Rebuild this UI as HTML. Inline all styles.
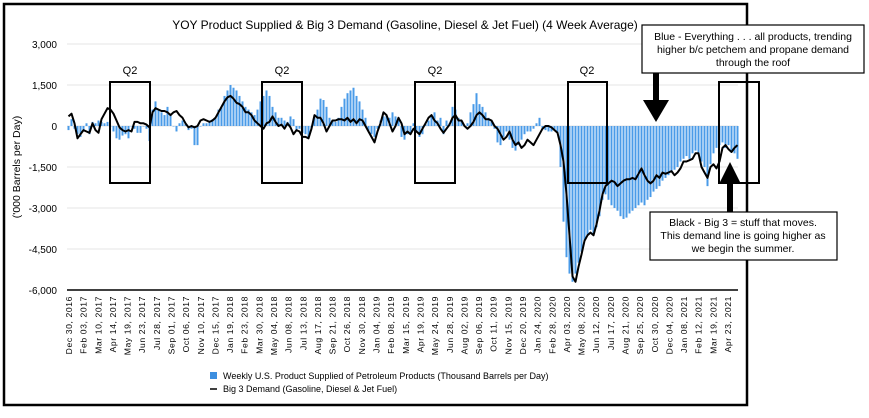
<!DOCTYPE html>
<html><head><meta charset="utf-8"><style>
body{margin:0;background:#fff;}
svg text{font-family:"Liberation Sans",sans-serif;}
</style></head><body>
<svg id="c" width="869" height="413" viewBox="0 0 869 413" xmlns="http://www.w3.org/2000/svg">
<rect x="4" y="4" width="743" height="401" fill="#fff" stroke="#000" stroke-width="2.5"/>
<text x="405" y="29" font-size="12" text-anchor="middle">YOY Product Supplied &amp; Big 3 Demand (Gasoline, Diesel &amp; Jet Fuel) (4 Week Average)</text>
<text transform="translate(20,167) rotate(-90)" font-size="10.5" text-anchor="middle">('000 Barrels per Day)</text>
<g id="grid"></g><g id="bars"></g><g id="line"></g><g id="xlabels"></g>
<g fill="none" stroke="#000" stroke-width="2">
<rect x="110" y="82" width="40" height="101"/>
<rect x="262" y="82" width="40" height="101"/>
<rect x="415" y="82" width="40" height="101"/>
<rect x="568" y="82" width="39" height="101"/>
<rect x="719" y="82" width="40" height="101"/>
</g>
<g font-size="11" text-anchor="middle">
<text x="130" y="74">Q2</text>
<text x="282" y="74">Q2</text>
<text x="435" y="74">Q2</text>
<text x="587" y="74">Q2</text>
</g>
<g>
<rect x="642" y="25" width="222" height="48" fill="#fff" stroke="#000" stroke-width="1.2"/>
<text font-size="10.5" text-anchor="middle"><tspan x="753" y="40">Blue - Everything . . . all products, trending</tspan><tspan x="753" y="53">higher b/c petchem and propane demand</tspan><tspan x="753" y="66">through the roof</tspan></text>
<rect x="653" y="73" width="6" height="30" fill="#000"/><polygon points="643,100 669,100 656,122" fill="#000"/>
</g>
<g>
<rect x="650" y="212" width="187" height="48" fill="#fff" stroke="#000" stroke-width="1.2"/>
<text font-size="10.5" text-anchor="middle"><tspan x="743" y="226">Black - Big 3 = stuff that moves.</tspan><tspan x="743" y="239">This demand line is going higher as</tspan><tspan x="743" y="252">we begin the summer.</tspan></text>
<rect x="727" y="180" width="6" height="32" fill="#000"/><polygon points="719,184 741,184 730,162" fill="#000"/>
</g>
<g font-size="9">
<rect x="210" y="372" width="7" height="7" fill="#3d8fe0"/>
<text x="223" y="379">Weekly U.S. Product Supplied of Petroleum Products  (Thousand Barrels per Day)</text>
<line x1="210" y1="389" x2="217" y2="389" stroke="#000" stroke-width="1.5"/>
<text x="223" y="392">Big 3 Demand (Gasoline, Diesel &amp; Jet Fuel)</text>
</g>
</svg>
<script>
const yTicks=[3000,1500,0,-1500,-3000,-4500,-6000];
const xLabels=["Dec 30, 2016","Feb 03, 2017","Mar 10, 2017","Apr 14, 2017","May 19, 2017","Jun 23, 2017","Jul 28, 2017","Sep 01, 2017","Oct 06, 2017","Nov 10, 2017","Dec 15, 2017","Jan 19, 2018","Feb 23, 2018","Mar 30, 2018","May 04, 2018","Jun 08, 2018","Jul 13, 2018","Aug 17, 2018","Sep 21, 2018","Oct 26, 2018","Nov 30, 2018","Jan 04, 2019","Feb 08, 2019","Mar 15, 2019","Apr 19, 2019","May 24, 2019","Jun 28, 2019","Aug 02, 2019","Sep 06, 2019","Oct 11, 2019","Nov 15, 2019","Dec 20, 2019","Jan 24, 2020","Feb 28, 2020","Apr 03, 2020","May 08, 2020","Jun 12, 2020","Jul 17, 2020","Aug 21, 2020","Sep 25, 2020","Oct 30, 2020","Dec 04, 2020","Jan 08, 2021","Feb 12, 2021","Mar 19, 2021","Apr 23, 2021"];
const productSupplied=[
-150,250,-100,-300,-400,-200,100,-300,150,100,200,150,100,150,0,
-200,-450,-500,-350,-300,-450,0,-100,-250,-250,0,-100,-550,
600,900,600,500,400,700,400,0,-200,100,200,100,-150,
-100,-700,-700,0,100,100,200,250,300,600,700,1100,1300,1500,1400,
1300,1100,900,700,600,500,400,600,900,1100,
1300,1100,700,500,300,300,200,150,350,250,
-200,-100,-250,-300,-400,-100,300,600,1000,950,700,300,200,150,300,
700,1000,1200,1300,1400,1100,900,600,300,-200,-300,-400,-100,200,350,400,300,500,350,200,
-400,-500,-300,-250,100,-200,-400,-300,100,200,400,500,200,300,
-300,200,100,700,600,300,200,0,100,500,800,1200,800,700,500,300,
200,-100,-600,-700,-400,-200,-500,-800,-900,
-700,-500,-300,-200,-200,-100,100,300,-100,-150,-200,-200,-150,-250,-1500,-3500,-4800,-5400,-5700,-5400,
-5000,-4600,-4200,-4000,-3800,-4000,-3700,-3300,-2700,-2500,-2700,-2900,-3000,-3100,-3300,-3400,-3350,-3200,-3100,-3000,
-2900,-2800,-2900,-2700,-2600,-2400,-2300,-2200,-2000,-1900,-1800,-1700,-1600,-1500,-1300,-1200,-1100,-1200,-1000,-900,
-1000,-1300,-1500,-2200,-1400,-1000,-800,-700,-600,-800,-700,-900,-1000,-1200];
const big3Demand=[
350,450,100,-450,-300,-150,-200,-250,100,-150,-250,250,450,650,600,
450,200,-50,-150,-200,-150,-200,150,150,100,100,50,-50,
500,650,600,550,550,500,400,500,550,400,300,100,-50,
0,-50,0,200,250,200,150,200,300,500,700,900,1050,1100,1000,
850,800,700,500,500,400,200,100,0,-100,
100,150,350,150,0,50,-100,100,-50,-300,
-150,-200,-400,-400,-450,-100,400,300,300,100,-200,0,200,200,250,
250,200,300,150,250,100,250,200,0,-200,-400,-600,-200,100,500,400,100,-200,0,300,
100,-300,-200,-300,-100,-200,-300,-100,100,300,400,200,100,-100,
-250,-100,50,300,400,200,200,0,-100,0,150,400,500,400,250,250,
200,0,-100,-300,-500,-400,-200,-500,-700,
-600,-800,-700,-500,-600,-700,-500,-300,-100,0,0,-50,-150,-250,-700,-1300,-2500,-4000,-5500,-5700,
-5150,-4700,-4200,-4000,-3900,-4000,-3600,-3100,-2500,-2200,-2100,-2000,-2050,-2200,-2100,-2000,-1950,-1950,-1900,-1950,
-1750,-1550,-1800,-2000,-2100,-2000,-1800,-1900,-1700,-1750,-1700,-1650,-1800,-1700,-1550,-1300,-1300,-1250,-1200,-1000,
-1000,-1500,-1700,-1900,-1500,-1400,-1550,-1300,-800,-700,-850,-950,-800,-700];

const NS="http://www.w3.org/2000/svg";
const X0=67,STEP=3,Y0=126,PX=41/1500;
const LX0=69,LX1=728;
function xS(i){return X0+STEP*i+1.5;}
function xL(k){return LX0+k*(LX1-LX0)/(xLabels.length-1);}
function yS(v){return Y0-v*PX;}
function mk(t,a,p){const e=document.createElementNS(NS,t);for(const k in a)e.setAttribute(k,a[k]);p.appendChild(e);return e;}
const grid=document.getElementById('grid');
yTicks.forEach(v=>{
  const l=mk('line',{x1:X0,x2:738,y1:yS(v),y2:yS(v),stroke:v===-6000?'#000':'#e4e4e4','stroke-width':v===-6000?1.5:1},grid);
  
  
  const t=mk('text',{x:57,y:yS(v)+4,'font-size':'10','text-anchor':'end'},grid);
  t.textContent=v.toLocaleString('en-US');
  
  
});
const bars=document.getElementById('bars');
productSupplied.forEach((v,i)=>{
  const y=Math.min(yS(v),Y0),h=Math.abs(yS(v)-Y0);
  const r=mk('rect',{x:xS(i)-1,y:y,width:2,height:Math.max(h,0.5),fill:'#4a9be8'},bars);
  
  
});
const pts=big3Demand.map((v,i)=>xS(i).toFixed(1)+','+yS(v).toFixed(1)).join(' ');
const pl=mk('polyline',{points:pts,fill:'none',stroke:'#000','stroke-width':2,'stroke-linejoin':'round'},document.getElementById('line'));


const xl=document.getElementById('xlabels');
xLabels.forEach((s,k)=>{
  const x=xL(k)+3;
  const t=mk('text',{transform:'translate('+x.toFixed(1)+',296) rotate(-90)','font-size':'8.6','text-anchor':'end','letter-spacing':'0.6'},xl);
  t.textContent=s;
  
  
});
</script>
</body></html>
